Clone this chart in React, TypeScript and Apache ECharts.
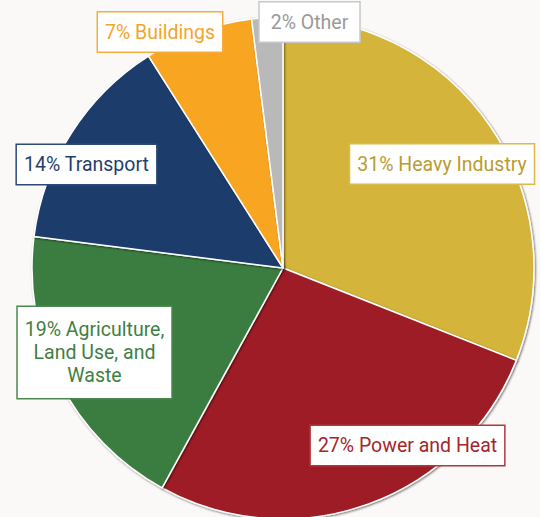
import React, { useEffect, useRef } from "react";
import * as echarts from "echarts";

const categories = ["Heavy Industry", "Power and Heat", "Agriculture, Land Use, and Waste", "Transport", "Buildings", "Other"];
const labelTexts = ["Heavy Industry", "Power and Heat", "Agriculture,\nLand Use, and\nWaste", "Transport", "Buildings", "Other"];
const shares = [31, 27, 19, 14, 7, 2];
const sliceColors = ["#d4b43a", "#9e1f25", "#3b7d3f", "#1c3d6c", "#f8a521", "#b9b9b9"];
const textColors = ["#b99c30", "#a3262b", "#3f8043", "#1f3f6c", "#f5a42a", "#9a9a9a"];
const borderColors = ["#d8bb4a", "#b0383c", "#4a8a4e", "#2a4a78", "#f7ac3a", "#c8c8c8"];
const labelCenters: [number, number][] = [
  [442, 164],
  [407.5, 445.5],
  [94.5, 352.5],
  [86.5, 164.5],
  [160, 32],
  [309.5, 22],
];

export default function App() {
  const ref = useRef<HTMLDivElement>(null);
  useEffect(() => {
    if (!ref.current) return;
    const chart = echarts.init(ref.current, null, { renderer: "svg" });
    chart.setOption({
      animation: false,
      backgroundColor: "#fbf9f7",
      series: [
        {
          type: "pie",
          center: [283, 268],
          radius: [0, 251],
          startAngle: 90,
          clockwise: true,
          avoidLabelOverlap: false,
          itemStyle: {
            borderColor: "#ffffff",
            borderWidth: 1.5,
            shadowColor: "rgba(0,0,0,0.55)",
            shadowBlur: 2,
            shadowOffsetX: 1,
            shadowOffsetY: 1,
          },
          labelLine: { show: false },
          labelLayout: (params: any) => {
            const c = labelCenters[params.dataIndex];
            return { x: c[0], y: c[1], align: "center", verticalAlign: "middle" };
          },
          data: categories.map((name, i) => ({
            name,
            value: shares[i],
            itemStyle: { color: sliceColors[i] },
            label: {
              show: true,
              position: "inside",
              formatter: () => `${shares[i]}% ${labelTexts[i]}`,
              color: textColors[i],
              fontFamily: "Roboto",
              fontSize: 19.5,
              lineHeight: 23,
              align: "center",
              backgroundColor: "#ffffff",
              borderColor: borderColors[i],
              borderWidth: 1.5,
              padding: i === 2 ? [11, 7, 11, 7] : i === 5 ? [8, 11, 8, 11] : [8, 7, 8, 7],
            },
          })),
        },
      ],
    });
    return () => chart.dispose();
  }, []);
  return (
    <div
      ref={ref}
      style={{ position: "fixed", left: 0, top: 0, width: 540, height: 517 }}
    />
  );
}
